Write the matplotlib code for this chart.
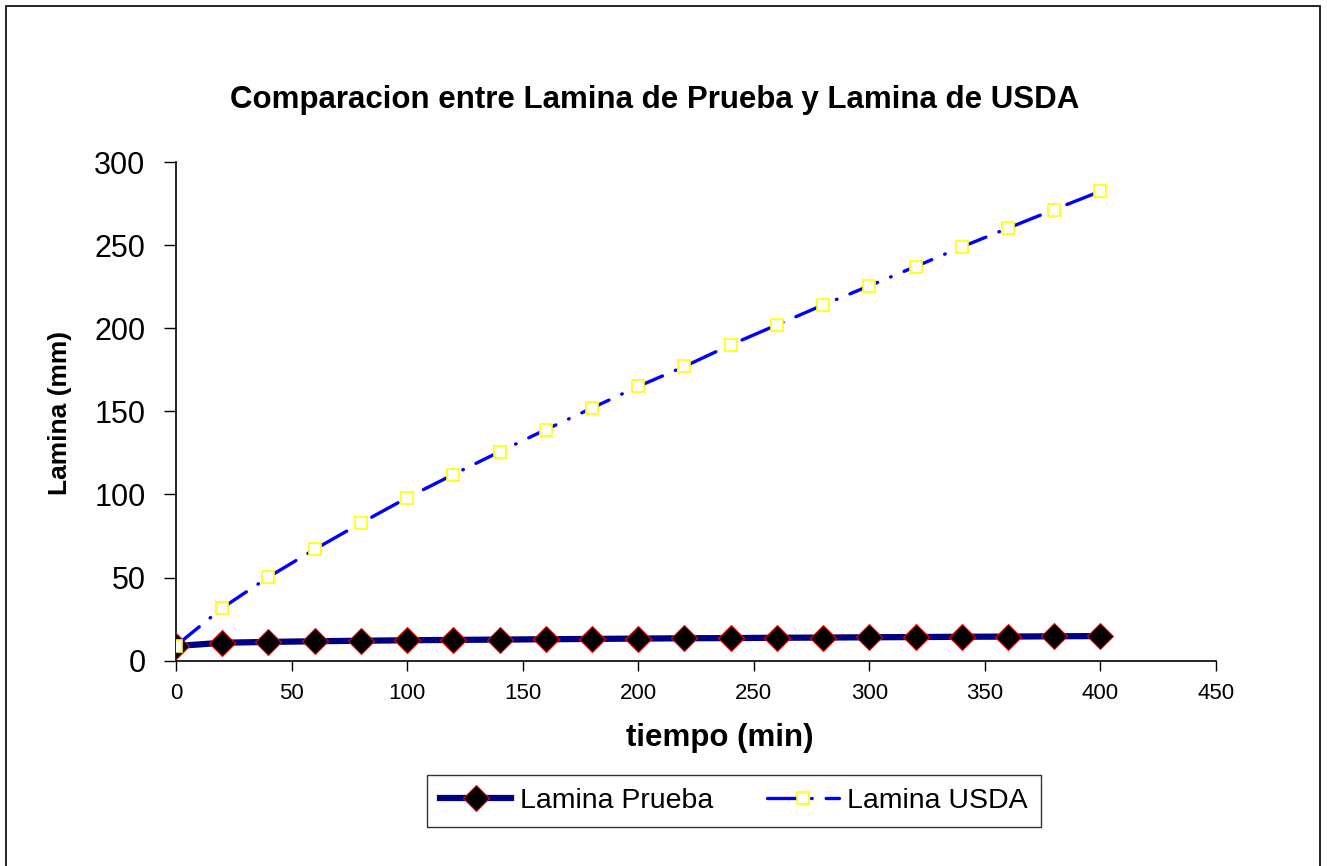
import matplotlib
matplotlib.use("Agg")
import matplotlib.pyplot as plt
from matplotlib.patches import Rectangle

plt.rcParams['font.family'] = ['Liberation Sans', 'DejaVu Sans']

tiempo = [0, 20, 40, 60, 80, 100, 120, 140, 160, 180, 200,
          220, 240, 260, 280, 300, 320, 340, 360, 380, 400]
lamina_prueba = [8.8, 10.8, 11.3, 11.7, 12.0, 12.3, 12.5, 12.7, 12.9, 13.1, 13.3,
                 13.5, 13.6, 13.8, 13.9, 14.1, 14.2, 14.4, 14.5, 14.7, 14.8]
lamina_usda = [9.0, 31.7, 50.3, 67.0, 82.8, 98.0, 112.0, 125.7, 139.0, 152.0, 165.0,
               177.0, 190.0, 202.0, 214.0, 225.5, 237.1, 248.9, 260.2, 271.4, 282.4]
x_ticks = [0, 50, 100, 150, 200, 250, 300, 350, 400, 450]
y_ticks = [0, 50, 100, 150, 200, 250, 300]

W, H = 1327, 866
fig = plt.figure(figsize=(W / 100, H / 100), dpi=100)
fig.patches.append(Rectangle((6 / W, -0.01), (1320 - 6) / W, 1 - 6 / H + 0.01,
                             transform=fig.transFigure, fill=False,
                             edgecolor='black', linewidth=1.2))

ax = fig.add_axes([176 / W, (H - 660.7) / H, (1216 - 176) / W, (660.7 - 162) / H])

ax.plot(tiempo, lamina_prueba, color='#000080', linewidth=4.5,
        marker='D', markersize=13, markerfacecolor='black',
        markeredgecolor='red', markeredgewidth=0.8, label='Lamina Prueba', zorder=3)
ax.plot(tiempo, lamina_usda, color='#0000FF', linewidth=2.4,
        dashes=(9, 4.2, 0.2, 4.2), dash_capstyle='round',
        marker='s', markersize=8, markerfacecolor='white',
        markeredgecolor='#FFFF00', markeredgewidth=1.2, label='Lamina USDA', zorder=4)

ax.set_xlim(0, 450)
ax.set_ylim(0, 300)
ax.set_xticks(x_ticks)
ax.set_yticks(y_ticks)
ax.tick_params(axis='x', labelsize=16, length=7, width=1, direction='out', pad=9)
ax.tick_params(axis='y', labelsize=22, length=9, width=1, direction='out', pad=13)
for s in ['top', 'right']:
    ax.spines[s].set_visible(False)
for s in ['left', 'bottom']:
    ax.spines[s].set_color('black')
    ax.spines[s].set_linewidth(1.2)

fig.text(720 / W, 1 - 738 / H, 'tiempo (min)', ha='center', va='center',
         fontsize=22.5, fontweight='bold')
fig.text(60 / W, 1 - 413 / H, 'Lamina (mm)', ha='center', va='center',
         fontsize=19, fontweight='bold', rotation=90)

fig.text(655 / W, 1 - 100 / H, 'Comparacion entre Lamina de Prueba y Lamina de USDA',
         ha='center', va='center', fontsize=22.5, fontweight='bold')

leg = ax.legend(loc='center', bbox_to_anchor=(734 / W, 1 - 801 / H),
                bbox_transform=fig.transFigure, ncol=2, fontsize=20.5,
                frameon=True, fancybox=False, edgecolor='black',
                handlelength=2.5, columnspacing=1.9, borderpad=0.45,
                borderaxespad=0, handletextpad=0.3)
leg.get_frame().set_linewidth(1.0)

fig.savefig('out.png', dpi=100)
